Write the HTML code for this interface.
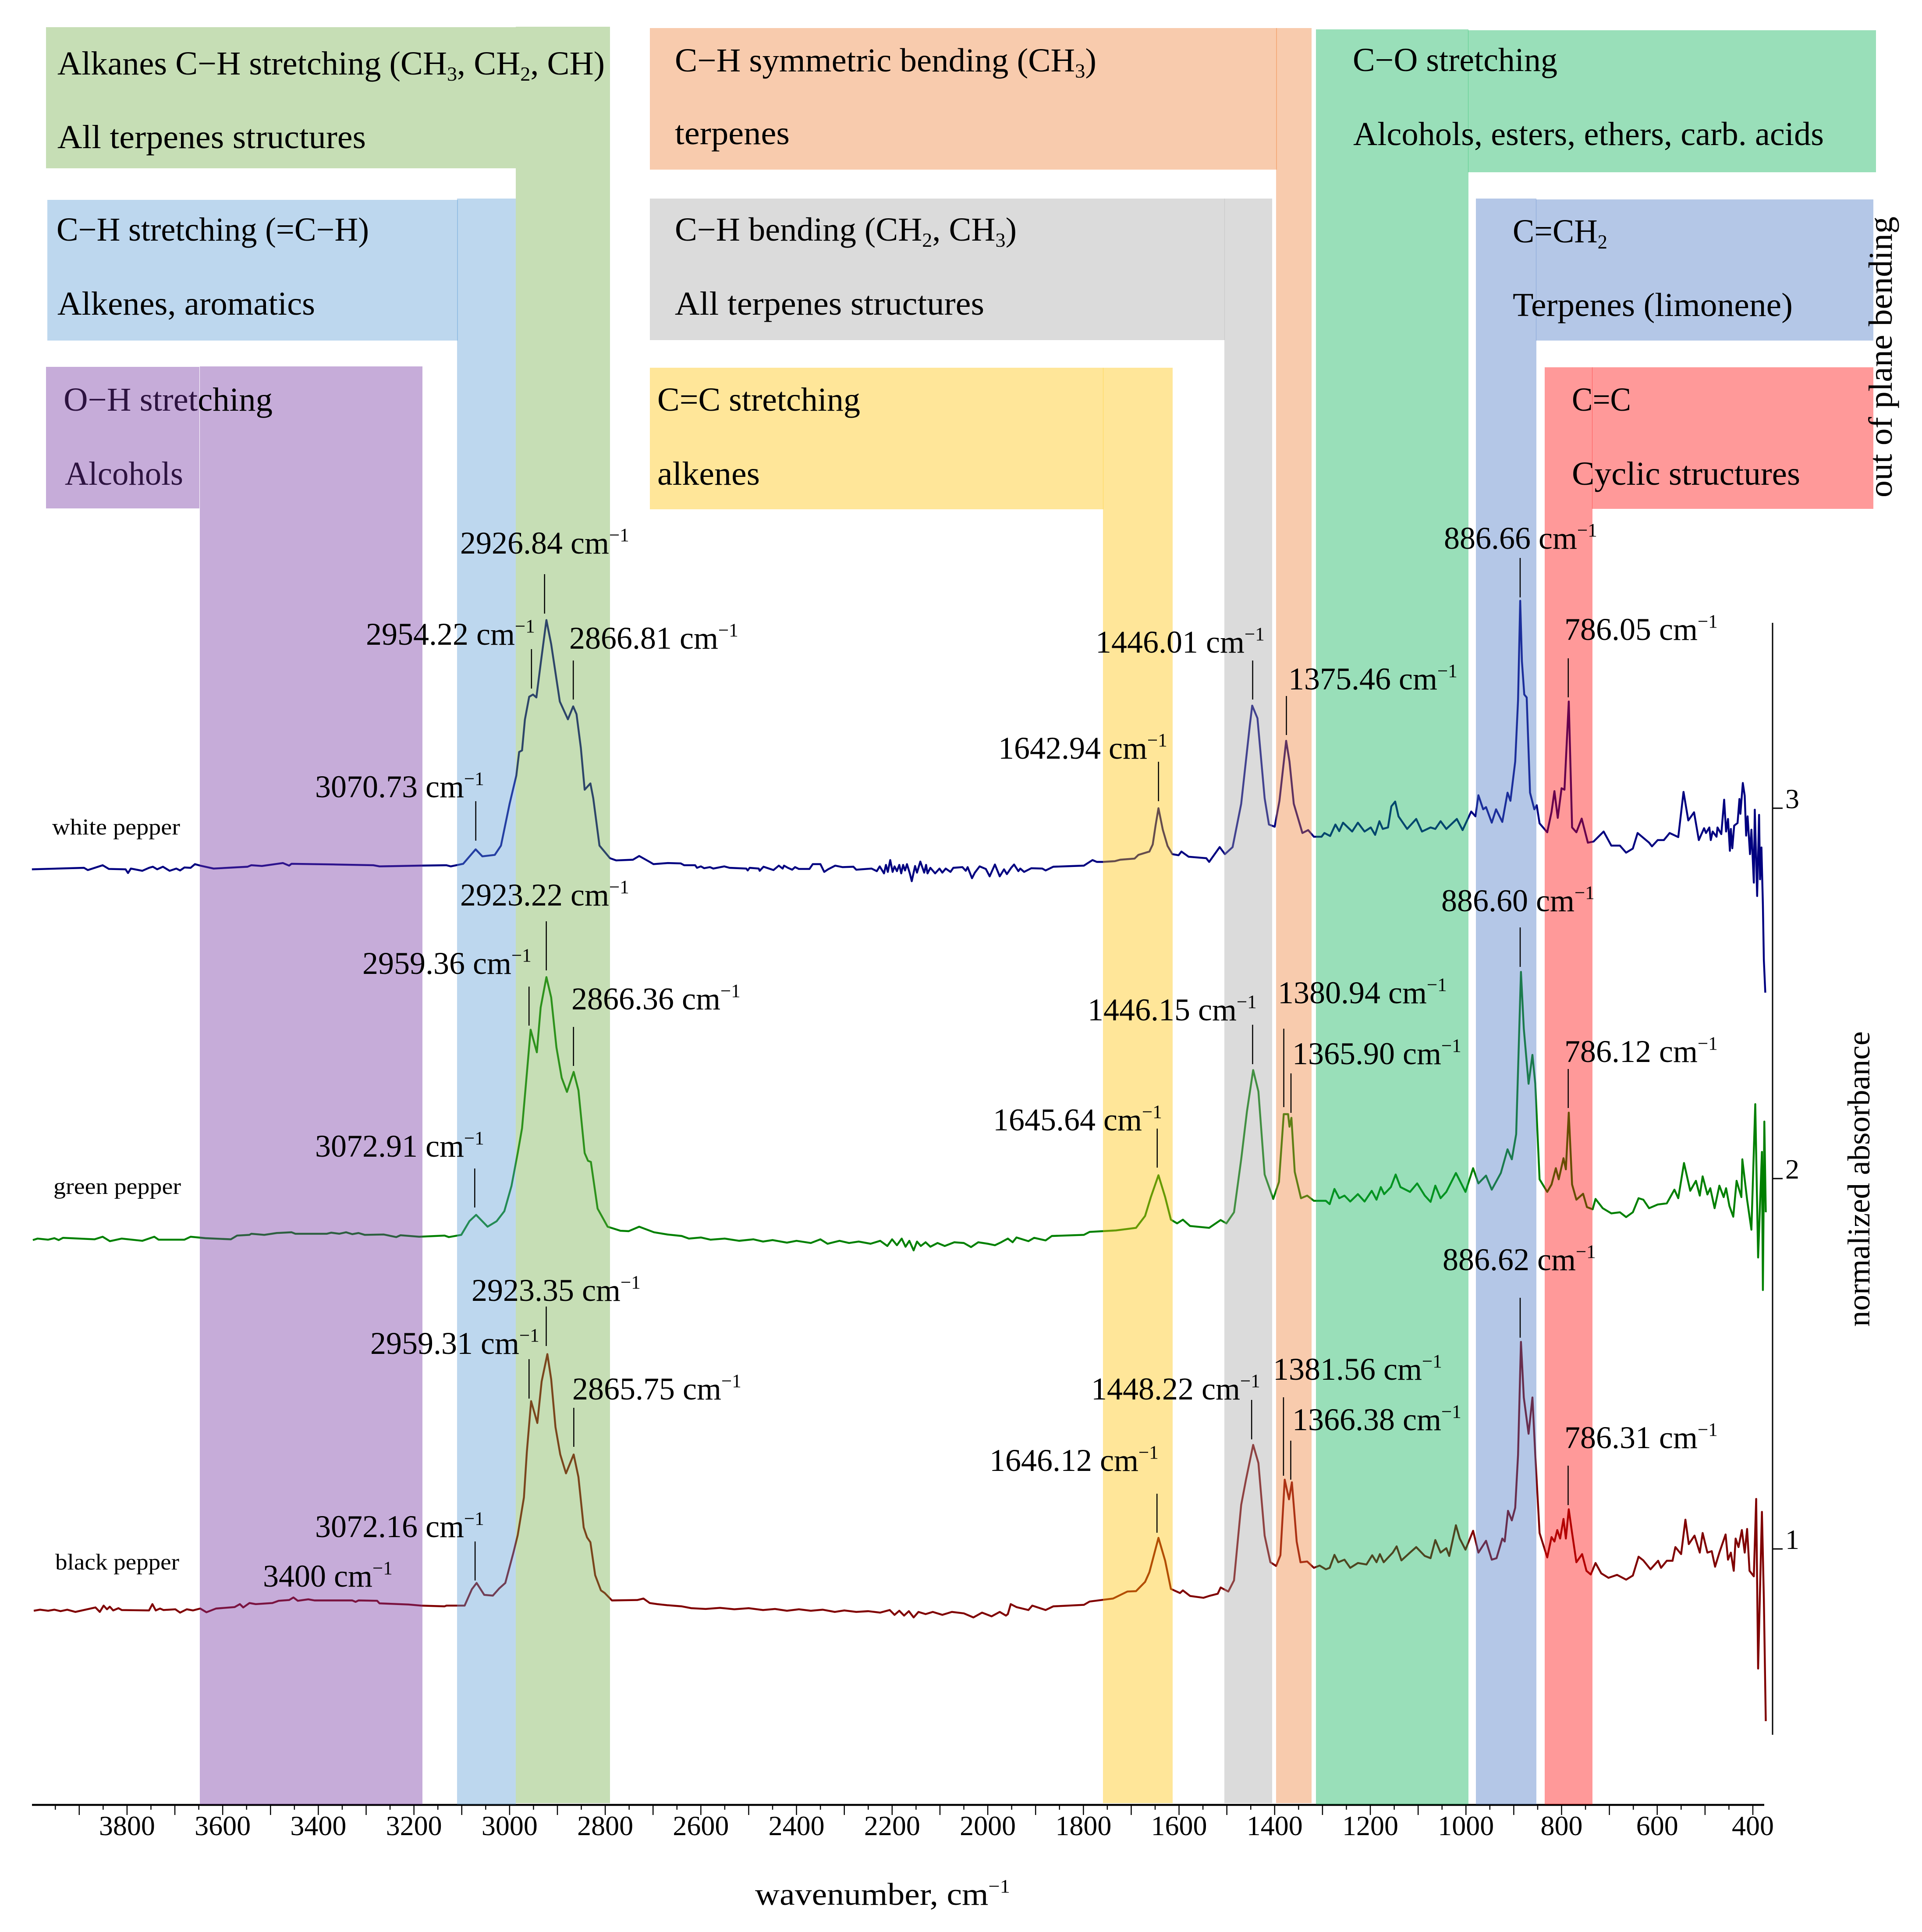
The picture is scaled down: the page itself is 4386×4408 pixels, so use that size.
<!DOCTYPE html>
<html lang="en">
<head>
<meta charset="utf-8">
<title>FTIR spectra of pepper</title>
<style>
html,body{margin:0;padding:0;background:#fff}
svg{display:block}
text{font-family:"Liberation Serif",serif;fill:#000}
</style>
</head>
<body>
<svg id="chart" xmlns="http://www.w3.org/2000/svg" width="4386" height="4408" viewBox="0 0 4386 4408">
<rect width="4386" height="4408" fill="#fff"/>
<g id="axes"></g>
<g id="traces"></g>
<g id="bands">
<rect x="1177" y="61" width="215" height="4053" fill="#70AD47" fill-opacity=".4"/>
<rect x="105" y="62" width="1072" height="322" fill="#70AD47" fill-opacity=".4"/>
<rect x="1043" y="453" width="134" height="3664" fill="#5B9BD5" fill-opacity=".4"/>
<rect x="108" y="456" width="937" height="321" fill="#5B9BD5" fill-opacity=".4"/>
<rect x="456" y="836" width="508" height="3281" fill="#7030A0" fill-opacity=".4"/>
<rect x="2912" y="64" width="81" height="4050" fill="#ED7D31" fill-opacity=".4"/>
<rect x="1483" y="64" width="1431" height="323" fill="#ED7D31" fill-opacity=".4"/>
<rect x="2794" y="453" width="109" height="3661" fill="#A5A5A5" fill-opacity=".4"/>
<rect x="1483" y="453" width="1312" height="323" fill="#A5A5A5" fill-opacity=".4"/>
<rect x="2517" y="839" width="159" height="3275" fill="#FFC000" fill-opacity=".4"/>
<rect x="1483" y="839" width="1035" height="323" fill="#FFC000" fill-opacity=".4"/>
<rect x="3003" y="67" width="348" height="4050" fill="#00B050" fill-opacity=".4"/>
<rect x="3350" y="69" width="931" height="324" fill="#00B050" fill-opacity=".4"/>
<rect x="3368" y="453" width="138" height="3664" fill="#4472C4" fill-opacity=".4"/>
<rect x="3505" y="455" width="770" height="322" fill="#4472C4" fill-opacity=".4"/>
<rect x="3525" y="838" width="109" height="3279" fill="#FF0000" fill-opacity=".4"/>
<rect x="3633" y="838" width="642" height="323" fill="#FF0000" fill-opacity=".4"/>
</g>
<g id="band-text" font-size="76">
<text x="131" y="170" textLength="1249" lengthAdjust="spacingAndGlyphs">Alkanes C−H stretching (CH<tspan dy="14" font-size="46">3</tspan><tspan dy="-14">, CH</tspan><tspan dy="14" font-size="46">2</tspan><tspan dy="-14">, CH)</tspan></text>
<text x="131" y="338" textLength="704" lengthAdjust="spacingAndGlyphs">All terpenes structures</text>
<text x="129" y="549" textLength="713" lengthAdjust="spacingAndGlyphs">C−H stretching (=C−H)</text>
<text x="131" y="718" textLength="588" lengthAdjust="spacingAndGlyphs">Alkenes, aromatics</text>
<text x="145" y="937" textLength="477" lengthAdjust="spacingAndGlyphs">O−H stretching</text>
<text x="148" y="1106" textLength="270" lengthAdjust="spacingAndGlyphs">Alcohols</text>
<text x="1540" y="163" textLength="962" lengthAdjust="spacingAndGlyphs">C−H symmetric bending (CH<tspan dy="14" font-size="46">3</tspan><tspan dy="-14">)</tspan></text>
<text x="1540" y="329" textLength="262" lengthAdjust="spacingAndGlyphs">terpenes</text>
<text x="1540" y="549" textLength="780" lengthAdjust="spacingAndGlyphs">C−H bending (CH<tspan dy="14" font-size="46">2</tspan><tspan dy="-14">, CH</tspan><tspan dy="14" font-size="46">3</tspan><tspan dy="-14">)</tspan></text>
<text x="1540" y="718" textLength="706" lengthAdjust="spacingAndGlyphs">All terpenes structures</text>
<text x="1500" y="937" textLength="463" lengthAdjust="spacingAndGlyphs">C=C stretching</text>
<text x="1500" y="1106" textLength="234" lengthAdjust="spacingAndGlyphs">alkenes</text>
<text x="3087" y="162" textLength="467" lengthAdjust="spacingAndGlyphs">C−O stretching</text>
<text x="3088" y="331" textLength="1074" lengthAdjust="spacingAndGlyphs">Alcohols, esters, ethers, carb. acids</text>
<text x="3452" y="553" textLength="216" lengthAdjust="spacingAndGlyphs">C=CH<tspan dy="14" font-size="46">2</tspan></text>
<text x="3452" y="721" textLength="639" lengthAdjust="spacingAndGlyphs">Terpenes (limonene)</text>
<text x="3587" y="937" textLength="135" lengthAdjust="spacingAndGlyphs">C=C</text>
<text x="3587" y="1106" textLength="521" lengthAdjust="spacingAndGlyphs">Cyclic structures</text>
<text x="4317" y="1135" transform="rotate(-90 4317 1135)" textLength="641" lengthAdjust="spacingAndGlyphs">out of plane bending</text>
</g>
<rect x="105" y="837" width="350" height="323" fill="#7030A0" fill-opacity=".4"/>
<g id="series-labels" font-size="52">
<text x="119" y="1904" textLength="292" lengthAdjust="spacingAndGlyphs">white pepper</text>
<text x="122" y="2724" textLength="291" lengthAdjust="spacingAndGlyphs">green pepper</text>
<text x="126" y="3581" textLength="283" lengthAdjust="spacingAndGlyphs">black pepper</text>
</g>
<text x="1723" y="4346" font-size="72" textLength="582" lengthAdjust="spacingAndGlyphs">wavenumber, cm<tspan dy="-28" font-size="43">−1</tspan></text>
<text x="4266" y="3027" font-size="72" transform="rotate(-90 4266 3027)" textLength="674" lengthAdjust="spacingAndGlyphs">normalized absorbance</text>
<g id="annotations"></g>
</svg>
<script>
const xTickLabels = [3800,3600,3400,3200,3000,2800,2600,2400,2200,2000,1800,1600,1400,1200,1000,800,600,400];
const yTickLabels = [1,2,3];

const whiteWn = [
3999,3890,3882,3851,3838,3803,3798,3792,3768,3754,
3746,3737,3725,3711,3697,3689,3680,3667,3658,3647,
3619,3548,3540,3518,3496,3474,3461,3456,3364,3285,
3272,3189,3132,3123,3097,3071,3057,3031,3018,3000,
2986,2980,2974,2968,2959,2951,2944,2935,2923,2913,
2895,2878,2867,2860,2851,2843,2831,2825,2812,2790,
2777,2742,2729,2707,2699,2669,2642,2635,2612,2608,
2600,2593,2581,2574,2551,2540,2505,2502,2498,2479,
2477,2469,2448,2437,2429,2426,2418,2409,2403,2395,
2373,2366,2350,2342,2334,2319,2304,2281,2275,2243,
2232,2226,2217,2213,2209,2204,2199,2195,2190,2185,
2181,2177,2173,2169,2163,2159,2152,2148,2141,2133,
2129,2126,2120,2110,2101,2095,2088,2078,2072,2053,
2046,2042,2033,2027,2017,2004,1996,1985,1975,1966,
1960,1951,1945,1936,1932,1924,1909,1886,1879,1863,
1799,1781,1772,1759,1734,1723,1693,1685,1662,1655,
1649,1643,1634,1624,1614,1601,1595,1580,1543,1537,
1515,1504,1488,1470,1452,1447,1436,1421,1412,1400,
1390,1376,1369,1360,1342,1330,1318,1302,1296,1284,
1273,1265,1257,1238,1226,1212,1199,1190,1181,1174,
1163,1156,1148,1141,1123,1104,1092,1074,1064,1053,
1041,1019,1007,989,980,974,964,958,946,937,
924,913,907,897,891,886.5,883,878,873,866,
857,852,846,830,821,815,808,800,794,785,
778,769,758,745,733,712,696,678,665,651,
641,617,611,599,586,574,556,545,535,523,
513,502,498,491,488,484,476,474,466,460,
456,452,448,446,443,439,432,428,426,421,
417,414,411,406,403,398,396,391,387,385,
382,379,377,374];
const whiteAbs = [
2.835,2.839,2.833,2.846,2.836,2.835,2.825,2.837,2.831,2.839,
2.842,2.835,2.842,2.831,2.837,2.832,2.840,2.839,2.849,2.845,
2.837,2.842,2.846,2.844,2.848,2.852,2.845,2.850,2.848,2.846,
2.843,2.845,2.846,2.843,2.850,2.889,2.870,2.874,2.899,3.012,
3.088,3.152,3.156,3.239,3.301,3.307,3.299,3.390,3.508,3.443,
3.288,3.240,3.275,3.254,3.163,3.050,3.067,3.027,2.899,2.865,
2.859,2.861,2.871,2.855,2.849,2.852,2.851,2.846,2.846,2.839,
2.843,2.838,2.841,2.837,2.843,2.839,2.837,2.832,2.839,2.837,
2.831,2.842,2.833,2.845,2.837,2.845,2.839,2.834,2.841,2.836,
2.836,2.849,2.849,2.828,2.835,2.845,2.841,2.842,2.834,2.837,
2.830,2.843,2.824,2.847,2.828,2.860,2.828,2.843,2.830,2.847,
2.824,2.847,2.832,2.849,2.824,2.803,2.844,2.826,2.856,2.826,
2.847,2.824,2.839,2.824,2.837,2.826,2.837,2.828,2.839,2.841,
2.831,2.841,2.811,2.826,2.843,2.836,2.816,2.848,2.816,2.835,
2.822,2.839,2.848,2.830,2.837,2.828,2.838,2.837,2.832,2.842,
2.845,2.860,2.855,2.855,2.857,2.861,2.864,2.874,2.883,2.902,
2.954,3.000,2.942,2.898,2.876,2.873,2.883,2.869,2.865,2.855,
2.895,2.876,2.895,3.012,3.224,3.277,3.243,3.027,2.956,2.950,
3.020,3.182,3.126,3.012,2.933,2.941,2.923,2.923,2.933,2.925,
2.956,2.938,2.961,2.937,2.961,2.937,2.948,2.928,2.965,2.944,
2.948,3.005,3.018,2.978,2.944,2.971,2.937,2.948,2.944,2.965,
2.944,2.971,2.941,2.991,2.978,3.035,2.997,3.003,2.961,2.997,
2.963,3.042,3.020,3.126,3.292,3.560,3.397,3.307,3.299,3.042,
2.997,3.008,2.959,2.935,2.990,3.046,2.974,3.054,3.050,3.288,
2.948,2.935,2.972,2.907,2.910,2.937,2.899,2.899,2.880,2.891,
2.933,2.907,2.897,2.914,2.914,2.933,2.922,3.044,2.967,2.989,
2.914,2.946,2.933,2.948,2.914,2.937,2.923,2.948,2.930,3.023,
2.937,2.971,2.885,2.944,2.892,2.953,2.960,3.025,2.985,3.068,
3.034,2.926,2.978,2.876,2.942,2.799,2.996,2.763,2.982,2.808,
2.894,2.740,2.590,2.502];

const greenWn = [
3997,3987,3965,3952,3943,3934,3868,3851,3836,3811,
3768,3743,3734,3680,3667,3636,3583,3570,3544,3540,
3513,3487,3456,3448,3382,3373,3356,3342,3329,3316,
3303,3263,3237,3228,3189,3136,3127,3101,3084,3070,
3046,3027,3011,2996,2983,2974,2967,2956,2943,2935,
2923,2913,2902,2891,2880,2866,2856,2843,2836,2830,
2816,2795,2768,2751,2729,2698,2670,2640,2625,2600,
2580,2550,2520,2490,2470,2450,2420,2400,2370,2350,
2335,2310,2290,2270,2245,2225,2210,2200,2190,2180,
2172,2164,2155,2148,2140,2130,2120,2105,2090,2070,
2050,2035,2020,2000,1985,1972,1958,1948,1940,1915,
1903,1879,1866,1799,1787,1732,1690,1671,1659,1643,
1629,1617,1604,1592,1577,1537,1513,1501,1485,1470,
1458,1445,1434,1421,1403,1391,1381,1372,1369,1365,
1358,1345,1332,1318,1293,1285,1275,1265,1254,1242,
1226,1212,1197,1187,1178,1171,1157,1147,1137,1117,
1102,1086,1074,1064,1053,1041,1021,1001,985,974,
958,946,927,913,904,895,885,879,869,861,
855,846,830,821,812,806,796,791,785,778,
769,755,747,735,729,714,696,678,665,651,
639,629,617,599,580,564,556,544,531,519,
511,505,495,489,480,470,461,456,449,441,
434,424,422,412,403,395,389,381,379,376,
373];
const greenAbs = [
1.834,1.838,1.835,1.839,1.834,1.840,1.836,1.843,1.831,1.838,
1.832,1.843,1.835,1.835,1.843,1.839,1.836,1.846,1.848,1.851,
1.848,1.853,1.855,1.851,1.851,1.854,1.851,1.855,1.850,1.853,
1.848,1.849,1.842,1.847,1.843,1.846,1.842,1.848,1.885,1.902,
1.870,1.885,1.912,1.980,2.069,2.136,2.238,2.402,2.341,2.462,
2.544,2.489,2.354,2.272,2.234,2.288,2.238,2.069,2.048,2.045,
1.919,1.870,1.859,1.858,1.870,1.855,1.849,1.845,1.838,1.841,
1.835,1.838,1.832,1.836,1.830,1.834,1.827,1.832,1.826,1.836,
1.824,1.832,1.826,1.830,1.824,1.832,1.818,1.836,1.820,1.838,
1.816,1.832,1.806,1.830,1.818,1.828,1.816,1.826,1.818,1.828,
1.826,1.815,1.828,1.824,1.820,1.828,1.838,1.828,1.841,1.831,
1.840,1.833,1.845,1.848,1.856,1.860,1.867,1.899,1.950,2.009,
1.950,1.889,1.879,1.889,1.872,1.867,1.888,1.879,1.909,2.052,
2.181,2.293,2.235,2.011,1.945,1.991,2.174,2.174,2.140,2.164,
2.018,1.947,1.954,1.940,1.940,1.931,1.972,1.947,1.954,1.938,
1.958,1.938,1.967,1.943,1.977,1.958,1.977,2.011,1.977,1.964,
1.987,1.954,1.937,1.981,1.947,1.964,2.015,1.964,2.028,1.987,
2.008,1.970,2.015,2.079,2.052,2.120,2.558,2.405,2.256,2.334,
2.256,1.998,1.964,1.984,2.028,1.998,2.055,2.025,2.178,1.984,
1.943,1.959,1.923,1.917,1.945,1.920,1.906,1.909,1.896,1.909,
1.947,1.943,1.920,1.930,1.933,1.970,1.947,2.042,1.967,1.994,
1.954,2.006,1.957,1.974,1.920,1.981,1.950,1.974,1.926,1.897,
1.994,1.950,2.052,1.943,1.862,2.201,1.787,2.072,1.699,2.154,
1.909];

const blackWn = [
3995,3982,3965,3952,3939,3925,3908,3866,3857,3849,
3842,3836,3829,3818,3811,3754,3747,3740,3731,3724,
3699,3689,3675,3662,3647,3634,3614,3575,3564,3557,
3544,3531,3496,3483,3461,3452,3443,3421,3408,3329,
3322,3316,3277,3272,3211,3185,3136,3132,3094,3079,
3069,3053,3035,3022,3009,2992,2983,2970,2964,2955,
2942,2933,2921,2913,2904,2894,2882,2866,2856,2845,
2838,2831,2821,2809,2801,2786,2733,2720,2707,2691,
2670,2640,2620,2590,2560,2530,2500,2470,2445,2420,
2395,2370,2345,2320,2300,2275,2250,2225,2205,2195,
2185,2175,2165,2155,2145,2130,2115,2095,2075,2050,
2030,2012,1992,1975,1962,1958,1952,1940,1915,1907,
1879,1863,1799,1787,1738,1708,1690,1671,1662,1643,
1629,1617,1598,1592,1577,1549,1537,1519,1513,1497,
1485,1470,1460,1445,1434,1421,1409,1397,1388,1379,
1370,1364,1354,1346,1332,1318,1306,1293,1285,1275,
1267,1254,1242,1226,1208,1196,1187,1180,1172,1153,
1145,1135,1117,1104,1086,1074,1064,1053,1041,1035,
1021,1013,1001,985,974,958,946,936,924,919,
912,904,897,891,885,879,869,861,855,846,
830,821,815,809,803,796,791,785,778,769,
757,748,739,729,717,702,684,665,651,639,
629,614,598,592,580,568,562,550,541,534,
522,511,505,495,486,479,470,457,452,446,
440,436,430,423,417,412,407,398,393,389,
381,377,373];
const blackAbs = [
0.833,0.836,0.833,0.836,0.832,0.836,0.830,0.842,0.830,0.847,
0.837,0.844,0.834,0.840,0.835,0.834,0.851,0.834,0.839,0.835,
0.837,0.828,0.837,0.834,0.839,0.829,0.839,0.843,0.851,0.842,
0.854,0.851,0.854,0.860,0.862,0.869,0.860,0.864,0.861,0.861,
0.857,0.861,0.860,0.853,0.850,0.847,0.845,0.847,0.847,0.891,
0.908,0.876,0.874,0.893,0.908,0.990,1.037,1.139,1.261,1.399,
1.340,1.452,1.526,1.458,1.329,1.255,1.204,1.255,1.194,1.058,
1.031,1.018,0.929,0.888,0.881,0.861,0.862,0.866,0.854,0.851,
0.848,0.845,0.840,0.838,0.841,0.837,0.840,0.835,0.838,0.833,
0.837,0.833,0.836,0.830,0.834,0.830,0.832,0.828,0.835,0.822,
0.833,0.820,0.832,0.815,0.830,0.824,0.830,0.822,0.830,0.826,
0.815,0.828,0.818,0.830,0.820,0.824,0.851,0.843,0.835,0.847,
0.835,0.845,0.849,0.858,0.866,0.885,0.886,0.911,0.937,1.030,
0.968,0.892,0.881,0.888,0.873,0.868,0.873,0.879,0.896,0.885,
0.915,1.119,1.187,1.281,1.232,1.036,0.964,0.954,0.983,1.187,
1.134,1.180,1.020,0.964,0.966,0.949,0.955,0.945,0.949,0.984,
0.964,0.971,0.949,0.962,0.958,0.983,0.964,0.986,0.964,0.990,
1.007,0.969,0.990,1.005,0.981,0.975,1.024,0.990,1.002,0.981,
1.064,1.028,0.998,1.049,0.990,1.022,0.971,0.975,1.028,1.020,
1.103,1.077,1.111,1.254,1.559,1.409,1.311,1.409,1.254,1.043,
0.977,1.032,1.020,1.051,1.028,1.081,1.028,1.107,1.043,0.964,
0.986,0.941,0.931,0.962,0.934,0.922,0.930,0.917,0.928,0.979,
0.969,0.945,0.968,0.949,0.968,0.968,1.005,0.986,1.079,1.013,
1.036,0.990,1.043,0.990,0.994,0.952,0.990,1.039,0.971,0.990,
0.941,1.028,1.005,1.051,0.990,1.054,0.941,0.926,1.135,0.677,
1.100,0.866,0.535];

const NS = 'http://www.w3.org/2000/svg';
function xScale(w){ return 4000 - (w - 400) * 1.0912; }
function yScale(v){ return 3534 - (v - 1) * 845; }
function svgEl(tag, attrs, parent){
  const el = document.createElementNS(NS, tag);
  for (const k in attrs) el.setAttribute(k, attrs[k]);
  parent.appendChild(el);
  return el;
}

const axes = document.getElementById('axes');
const traces = document.getElementById('traces');
const notes = document.getElementById('annotations');

const xLine = svgEl('line', {x1:73, x2:4026, y1:4118, y2:4118, stroke:'#000', 'stroke-width':4.5}, axes);



for (let w = 3950; w >= 400; w -= 50) {
  const major = w % 100 === 0;
  const t = svgEl('line', {x1:xScale(w), x2:xScale(w), y1:4120, y2: major ? 4141 : 4129, stroke:'#000', 'stroke-width':2.5}, axes);
  
  
}
xTickLabels.forEach(function(w){
  const t = svgEl('text', {x:xScale(w), y:4187, 'font-size':64, 'text-anchor':'middle'}, axes);
  t.textContent = String(w);
  
  
});

const yLine = svgEl('line', {x1:4045, x2:4045, y1:1421, y2:3958, stroke:'#000', 'stroke-width':3}, axes);


yTickLabels.forEach(function(v){
  const t = svgEl('line', {x1:4045, x2:4068, y1:yScale(v), y2:yScale(v), stroke:'#000', 'stroke-width':3}, axes);
  
  
  const l = svgEl('text', {x:4074, y:yScale(v), 'font-size':64}, axes);
  l.textContent = String(v);
  
  
});

function drawTrace(wn, abs, color, name){
  let d = '';
  for (let i = 0; i < wn.length; i++) {
    d += (i ? 'L' : 'M') + xScale(wn[i]).toFixed(1) + ' ' + yScale(abs[i]).toFixed(1);
  }
  const p = svgEl('path', {d:d, fill:'none', stroke:color, 'stroke-width':4.4, 'stroke-linejoin':'round'}, traces);
  
  
}
drawTrace(whiteWn, whiteAbs, '#000080', 'white-pepper-spectrum');
drawTrace(greenWn, greenAbs, '#008000', 'green-pepper-spectrum');
drawTrace(blackWn, blackAbs, '#800000', 'black-pepper-spectrum');

function label(text, lx, ly){
  const t = svgEl('text', {x:lx, y:ly, 'font-size':72}, notes);
  t.appendChild(document.createTextNode(text + ' cm'));
  const s = svgEl('tspan', {dy:-28, 'font-size':43}, t);
  s.textContent = '−1';
  
  
}
function peak(w, y1, y2, lx, ly){
  const line = svgEl('line', {x1:xScale(w), x2:xScale(w), y1:y1, y2:y2, stroke:'#000', 'stroke-width':2.5}, notes);
  
  
  label(w.toFixed(2), lx, ly);
}

peak(2926.84, 1310, 1400, 1050, 1263);
peak(2954.22, 1481, 1571, 835, 1471);
peak(2866.81, 1507, 1596, 1299, 1480);
peak(3070.73, 1828, 1918, 719, 1819);
peak(1642.94, 1738, 1828, 2278, 1731);
peak(1446.01, 1507, 1596, 2500, 1489);
peak(1375.46, 1588, 1677, 2940, 1573);
peak(886.66, 1273, 1363, 3295, 1252);
peak(786.05, 1502, 1591, 3570, 1460);

peak(2923.22, 2102, 2214, 1050, 2066);
peak(2959.36, 2251, 2340, 827, 2222);
peak(2866.36, 2343, 2432, 1304, 2303);
peak(3072.91, 2666, 2755, 719, 2639);
peak(1645.64, 2575, 2664, 2266, 2579);
peak(1446.15, 2338, 2428, 2482, 2328);
peak(1380.94, 2347, 2526, 2916, 2289);
peak(1365.90, 2449, 2539, 2949, 2428);
peak(886.60, 2116, 2206, 3289, 2079);
peak(786.12, 2439, 2528, 3570, 2423);

peak(2923.35, 2981, 3071, 1076, 2968);
peak(2959.31, 3101, 3191, 845, 3089);
peak(2865.75, 3212, 3301, 1306, 3193);
peak(3072.16, 3517, 3606, 719, 3507);
peak(1646.12, 3408, 3497, 2258, 3356);
peak(1448.22, 3194, 3284, 2490, 3193);
peak(1381.56, 3188, 3367, 2905, 3148);
peak(1366.38, 3287, 3376, 2949, 3263);
peak(886.62, 2961, 3052, 3292, 2898);
peak(786.31, 3344, 3434, 3570, 3304);
label('3400', 600, 3620);
</script>
</body>
</html>
